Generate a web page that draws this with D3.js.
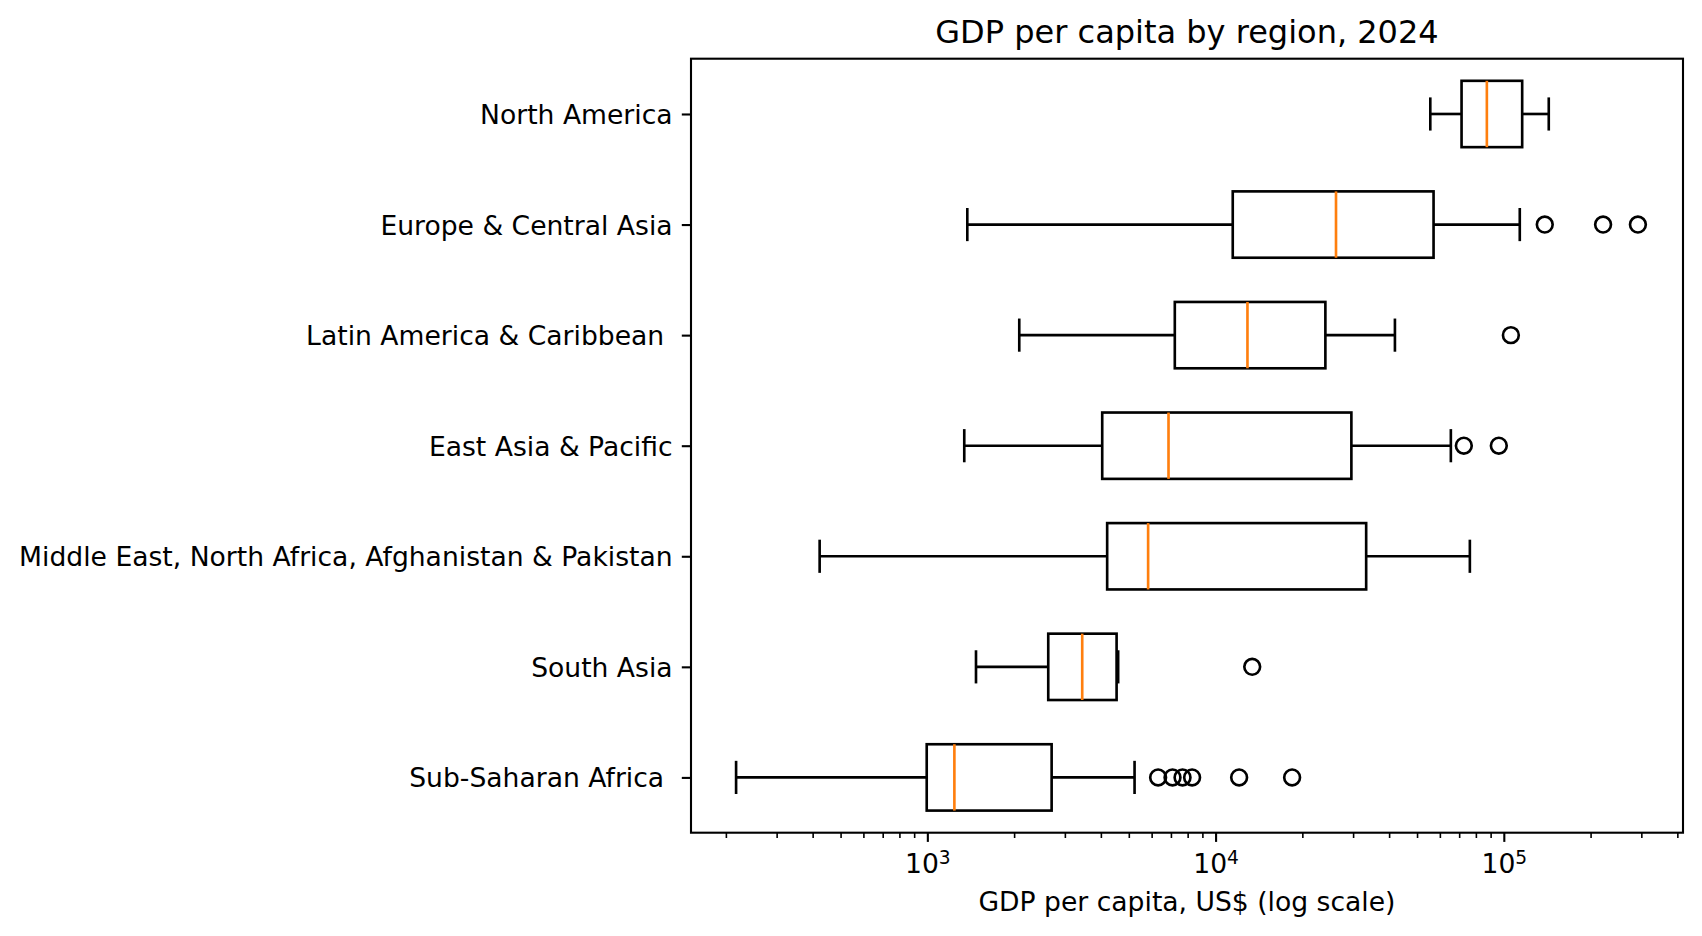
<!DOCTYPE html>
<html>
<head>
<meta charset="utf-8">
<script src="https://cdn.jsdelivr.net/npm/d3@7"></script>
<style>
  html, body { margin: 0; padding: 0; background: #fff; }
  svg { display: block; font-family: "DejaVu Sans", sans-serif; }
  text { white-space: pre; }
</style>
</head>
<body>
<svg id="chart" width="1702" height="936"></svg>
<script>
// ---- data (bottom to top) ----
const regions = [
  "Sub-Saharan Africa ",
  "South Asia",
  "Middle East, North Africa, Afghanistan & Pakistan",
  "East Asia & Pacific",
  "Latin America & Caribbean ",
  "Europe & Central Asia",
  "North America"
];
const whiskerLow  = [217,   1475,  423,   1343,  2084,  1376,   55580];
const q1          = [995,   2627,  4206,  4043,  7220,  11470,  71350];
const median      = [1241,  3446,  5834,  6866,  12900, 26170,  87330];
const q3          = [2699,  4535,  33300, 29590, 24040, 57050,  115800];
const whiskerHigh = [5235,  4592,  76240, 65500, 41900, 113600, 143200];
const outliers = [
  [6319, 7089, 7680, 8290, 12070, 18430],
  [13400],
  [],
  [72660, 96090],
  [105800],
  [138700, 221000, 291900],
  []
];
const majorTicks = [1e3, 1e4, 1e5];
const majorExp = ["3", "4", "5"];
const title = "GDP per capita by region, 2024";
const xLabel = "GDP per capita, US$ (log scale)";

// ---- layout ----
const svg = d3.select("#chart");
const margin = {left: 691, top: 58.7, right: 1702 - 1683, bottom: 936 - 832.7};
const W = 1702 - margin.left - margin.right;
const H = 936 - margin.top - margin.bottom;
const g = svg.append("g").attr("transform", `translate(${margin.left},${margin.top})`);

// x domain like matplotlib autoscale: 5% margins in log space
const allVals = whiskerLow.concat(whiskerHigh, outliers.flat());
const lmin = Math.log10(d3.min(allVals)), lmax = Math.log10(d3.max(allVals));
const span = lmax - lmin;
const x = d3.scaleLog()
  .domain([Math.pow(10, lmin - 0.05 * span), Math.pow(10, lmax + 0.05 * span)])
  .range([0, W]);
const y = d3.scaleLinear().domain([0.5, regions.length + 0.5]).range([H, 0]);

const boxW = 0.6, capW = 0.3;
const lw = 2.64;
const data = regions.map((r, i) => ({
  r, pos: i + 1, lo: whiskerLow[i], q1: q1[i], med: median[i], q3: q3[i], hi: whiskerHigh[i], out: outliers[i]
}));

// ---- boxes ----
const bx = g.append("g");
data.forEach(d => {
  const cy = y(d.pos);
  const hh = (y(d.pos - boxW / 2) - y(d.pos + boxW / 2)) / 2;
  const ch = (y(d.pos - capW / 2) - y(d.pos + capW / 2)) / 2;
  const line = (x1, y1, x2, y2, col) => bx.append("line")
    .attr("x1", x1).attr("y1", y1).attr("x2", x2).attr("y2", y2)
    .attr("stroke", col || "#000").attr("stroke-width", lw).attr("stroke-linecap", "butt");
  // whiskers
  line(x(d.lo), cy, x(d.q1), cy);
  line(x(d.q3), cy, x(d.hi), cy);
  // caps
  line(x(d.lo), cy - ch, x(d.lo), cy + ch);
  line(x(d.hi), cy - ch, x(d.hi), cy + ch);
  // box
  bx.append("rect")
    .attr("x", x(d.q1)).attr("y", cy - hh)
    .attr("width", x(d.q3) - x(d.q1)).attr("height", 2 * hh)
    .attr("fill", "none").attr("stroke", "#000").attr("stroke-width", lw);
  // median
  line(x(d.med), cy - hh, x(d.med), cy + hh, "#ff7f0e");
  // fliers
  d.out.forEach(v => {
    bx.append("circle").attr("cx", x(v)).attr("cy", cy).attr("r", 7.9)
      .attr("fill", "none").attr("stroke", "#000").attr("stroke-width", lw);
  });
});

// ---- axes ----
const minorTicks = x.ticks().filter(v => Math.abs(Math.log10(v) - Math.round(Math.log10(v))) > 1e-9);
const xMinor = g.append("g").attr("transform", `translate(0,${H})`)
  .call(d3.axisBottom(x).tickValues(minorTicks).tickSize(5.3).tickFormat(() => ""));
xMinor.select(".domain").remove();
xMinor.selectAll(".tick line").attr("stroke", "#000").attr("stroke-width", 1.6);

const xMajor = g.append("g").attr("transform", `translate(0,${H})`)
  .call(d3.axisBottom(x).tickValues(majorTicks).tickSize(9.2).tickFormat(() => ""));
xMajor.select(".domain").remove();
xMajor.selectAll(".tick line").attr("stroke", "#000").attr("stroke-width", 2.1);
xMajor.selectAll(".tick text").remove();
xMajor.selectAll(".tick").each(function(v, i) {
  const t = d3.select(this).append("text")
    .attr("x", 0).attr("y", 40)
    .attr("text-anchor", "middle").attr("fill", "#000")
    .style("font-size", "26.6px").style("font-family", "DejaVu Sans");
  t.append("tspan").text("10");
  t.append("tspan").attr("dy", "-0.45em").style("font-size", "18.6px").text(majorExp[i]);
});

const yAxis = g.append("g")
  .call(d3.axisLeft(y).tickValues(data.map(d => d.pos)).tickSize(9.2).tickPadding(9.2)
    .tickFormat((v, i) => regions[i]));
yAxis.select(".domain").remove();
yAxis.selectAll(".tick line").attr("stroke", "#000").attr("stroke-width", 2.1);
yAxis.selectAll(".tick text")
  .attr("dy", null).attr("y", 9.5).attr("fill", "#000")
  .style("font-size", "26.6px").style("font-family", "DejaVu Sans");

// frame
g.append("rect").attr("x", 0).attr("y", 0).attr("width", W).attr("height", H)
  .attr("fill", "none").attr("stroke", "#000").attr("stroke-width", 2.1);

// title and x label
svg.append("text").attr("x", margin.left + W / 2).attr("y", 43)
  .attr("text-anchor", "middle").style("font-size", "32px").attr("fill", "#000").text(title);
svg.append("text").attr("x", margin.left + W / 2).attr("y", 910.5)
  .attr("text-anchor", "middle").style("font-size", "26.6px").attr("fill", "#000").text(xLabel);
</script>
</body>
</html>
